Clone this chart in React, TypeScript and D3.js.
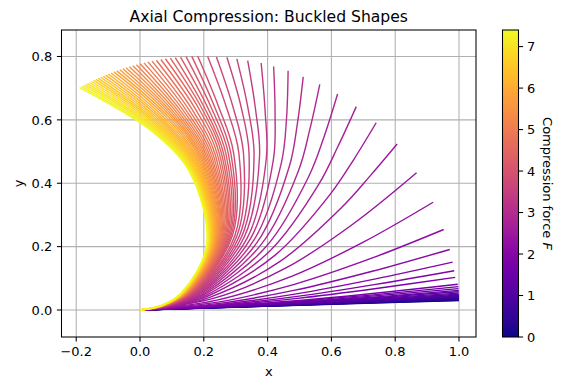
import React, { useEffect, useRef } from 'react';
import * as d3 from 'd3';

// compression force of each curve (colour scale)
const forces = [
  0, 0.1, 0.2, 0.3, 0.4, 0.5, 0.6, 0.7, 0.8, 0.9,
  1.0, 1.1, 1.2, 1.3, 1.4, 1.5, 1.6, 1.7, 1.8, 1.9,
  2.0, 2.1, 2.2, 2.3, 2.4, 2.5, 2.6, 2.7, 2.8, 2.9,
  3.0, 3.1, 3.2, 3.3, 3.4, 3.5, 3.6, 3.7, 3.8, 3.9,
  4.0, 4.1, 4.2, 4.3, 4.4, 4.5, 4.6, 4.7, 4.8, 4.9,
  5.0, 5.1, 5.2, 5.3, 5.4, 5.5, 5.6, 5.7, 5.8, 5.9,
  6.0, 6.1, 6.2, 6.3, 6.4, 6.5, 6.6, 6.7, 6.8, 6.9,
  7.0, 7.1, 7.2, 7.3, 7.4,
];
const forceMax = 7.4;

// shape of each buckled beam (x then y)
const shapeX: number[][] = [
  [0, 0.5, 1], [0, 0.5, 1], [0, 0.5, 1], [0, 0.5, 1], [0, 0.5, 1],
  [0, 0.5, 1], [0, 0.5, 1], [0, 0.5, 1], [0, 0.5, 1], [0, 0.5, 1],
  [0, 0.5, 1], [0, 0.4995, 0.999], [0, 0.4995, 0.999], [0, 0.4995, 0.999], [0, 0.4995, 0.999],
  [0, 0.499, 0.998], [0, 0.499, 0.998], [0, 0.498, 0.996],
  [0, 0.247, 0.494, 0.741, 0.988],
  [0, 0.246, 0.493, 0.739, 0.985],
  [0, 0.245, 0.49, 0.735, 0.98],
  [0, 0.243, 0.486, 0.728, 0.971],
  [0, 0.244, 0.484, 0.72, 0.952],
  [0, 0.241, 0.475, 0.7, 0.919],
  [0, 0.235, 0.459, 0.668, 0.867],
  [0, 0.099, 0.218, 0.439, 0.632, 0.7201, 0.806],
  [0, 0.0996, 0.2148, 0.4237, 0.596, 0.6705, 0.7404],
  [0, 0.0991, 0.2111, 0.4087, 0.5602, 0.6208, 0.678],
  [0, 0.0982, 0.2072, 0.3948, 0.5286, 0.5776, 0.6194],
  [0, 0.097, 0.2032, 0.3812, 0.4968, 0.5331, 0.5636],
  [0, 0.0957, 0.1993, 0.3687, 0.4684, 0.4939, 0.5116],
  [0, 0.0944, 0.1955, 0.3574, 0.4435, 0.4595, 0.4643],
  [0, 0.093, 0.1919, 0.3464, 0.4181, 0.4234, 0.4189],
  [0, 0.0918, 0.1887, 0.3368, 0.3962, 0.3922, 0.3798],
  [0, 0.0903, 0.1851, 0.3269, 0.3747, 0.3621, 0.3376],
  [0, 0.0892, 0.1822, 0.3189, 0.3576, 0.3383, 0.3036],
  [0, 0.088, 0.1794, 0.3116, 0.3419, 0.3166, 0.2724],
  [0, 0.0868, 0.1765, 0.3038, 0.3245, 0.2909, 0.2396],
  [0, 0.0857, 0.1739, 0.2972, 0.31, 0.2695, 0.2122],
  [0, 0.0844, 0.1711, 0.2898, 0.2936, 0.2452, 0.1811],
  [0, 0.0836, 0.1692, 0.2855, 0.2848, 0.2325, 0.1623],
  [0, 0.0829, 0.1675, 0.2815, 0.2769, 0.2211, 0.1444],
  [0, 0.0821, 0.1658, 0.2777, 0.2694, 0.2104, 0.1271],
  [0, 0.0814, 0.1641, 0.2739, 0.2624, 0.2006, 0.1106],
  [0, 0.0808, 0.1626, 0.2706, 0.2562, 0.1918, 0.0951],
  [0, 0.08, 0.161, 0.2671, 0.2498, 0.1827, 0.0797],
  [0, 0.0793, 0.1595, 0.2639, 0.2434, 0.1725, 0.0654],
  [0, 0.0787, 0.158, 0.2607, 0.237, 0.1623, 0.0512],
  [0, 0.078, 0.1565, 0.2577, 0.2312, 0.1533, 0.0378],
  [0, 0.0774, 0.1551, 0.2548, 0.2258, 0.1447, 0.0249],
  [0, 0.0768, 0.1537, 0.252, 0.2207, 0.137, 0.0123],
  [0, 0.0762, 0.1524, 0.2494, 0.2159, 0.1297, 0.0002],
  [0, 0.0756, 0.1512, 0.2468, 0.2116, 0.1232, -0.0112],
  [0, 0.0749, 0.1499, 0.2444, 0.2075, 0.117, -0.0225],
  [0, 0.0743, 0.1487, 0.2421, 0.2036, 0.1111, -0.0332],
  [0, 0.0738, 0.1474, 0.2398, 0.1999, 0.1058, -0.0438],
  [0, 0.0733, 0.1463, 0.2377, 0.1967, 0.1011, -0.0537],
  [0, 0.0727, 0.1451, 0.2356, 0.1934, 0.0964, -0.0634],
  [0, 0.0721, 0.144, 0.2336, 0.1902, 0.0912, -0.0729],
  [0, 0.0716, 0.143, 0.2316, 0.187, 0.0857, -0.0818],
  [0, 0.0711, 0.1419, 0.2297, 0.1839, 0.0802, -0.0908],
  [0, 0.0706, 0.1408, 0.2279, 0.1809, 0.075, -0.0994],
  [0, 0.0701, 0.1398, 0.2261, 0.1783, 0.0706, -0.1075],
  [0, 0.0696, 0.1388, 0.2244, 0.1759, 0.0665, -0.1155],
  [0, 0.0691, 0.1379, 0.2227, 0.1735, 0.0627, -0.1229],
  [0, 0.0687, 0.1369, 0.2211, 0.1712, 0.0589, -0.1306],
  [0, 0.0682, 0.136, 0.2195, 0.169, 0.0551, -0.138],
  [0, 0.0678, 0.135, 0.218, 0.1671, 0.0521, -0.145],
  [0, 0.0674, 0.1342, 0.2167, 0.1653, 0.0492, -0.1518],
  [0, 0.067, 0.1333, 0.2152, 0.1635, 0.0464, -0.1586],
  [0, 0.0666, 0.1324, 0.2138, 0.1619, 0.0439, -0.1653],
  [0, 0.0661, 0.1315, 0.2124, 0.1603, 0.0417, -0.1716],
  [0, 0.0658, 0.1307, 0.2112, 0.159, 0.0396, -0.1778],
  [0, 0.0654, 0.1299, 0.2099, 0.1576, 0.0376, -0.1838],
  [0, 0.065, 0.1292, 0.209, 0.1565, 0.0359, -0.1895],
];
const shapeY: number[][] = [
  [0, 0.015, 0.03], [0, 0.0153, 0.031], [0, 0.0157, 0.0322], [0, 0.0161, 0.0334], [0, 0.0165, 0.0348],
  [0, 0.017, 0.0363], [0, 0.0174, 0.0379], [0, 0.018, 0.0398], [0, 0.0186, 0.0418], [0, 0.0193, 0.0441],
  [0, 0.0201, 0.0467], [0, 0.0211, 0.0499], [0, 0.0221, 0.0534], [0, 0.0233, 0.0574], [0, 0.0247, 0.062],
  [0, 0.0262, 0.0674], [0, 0.028, 0.0737], [0, 0.0302, 0.0814],
  [0, 0.0133, 0.0368, 0.0679, 0.103],
  [0, 0.0149, 0.0429, 0.0809, 0.124],
  [0, 0.0169, 0.0509, 0.0975, 0.151],
  [0, 0.02, 0.0626, 0.1222, 0.191],
  [0, 0.0248, 0.0811, 0.1611, 0.254],
  [0, 0.0313, 0.1062, 0.2141, 0.34],
  [0, 0.0383, 0.1334, 0.2714, 0.433],
  [0, 0.01, 0.0399, 0.1535, 0.3234, 0.4216, 0.5238],
  [0, 0.0113, 0.045, 0.1731, 0.3647, 0.4757, 0.5909],
  [0, 0.0123, 0.0489, 0.1879, 0.3962, 0.5166, 0.6418],
  [0, 0.0131, 0.0519, 0.1996, 0.4207, 0.5485, 0.6815],
  [0, 0.0137, 0.0542, 0.2085, 0.4395, 0.5731, 0.712],
  [0, 0.0142, 0.056, 0.2155, 0.4543, 0.5923, 0.7359],
  [0, 0.0145, 0.0575, 0.2211, 0.4661, 0.6077, 0.7551],
  [0, 0.0148, 0.0585, 0.2251, 0.4743, 0.6184, 0.7683],
  [0, 0.015, 0.0593, 0.2282, 0.4811, 0.6272, 0.7793],
  [0, 0.0151, 0.0599, 0.2305, 0.4858, 0.6334, 0.7869],
  [0, 0.0153, 0.0603, 0.2321, 0.4892, 0.6378, 0.7923],
  [0, 0.0154, 0.0607, 0.2335, 0.4922, 0.6418, 0.7974],
  [0, 0.0154, 0.0608, 0.2339, 0.493, 0.6428, 0.7986],
  [0, 0.0154, 0.0609, 0.2342, 0.4938, 0.6438, 0.7998],
  [0, 0.0154, 0.061, 0.2346, 0.4945, 0.6448, 0.801],
  [0, 0.0154, 0.061, 0.2344, 0.4941, 0.6443, 0.8004],
  [0, 0.0154, 0.0609, 0.2341, 0.4936, 0.6435, 0.7995],
  [0, 0.0154, 0.0608, 0.2338, 0.4928, 0.6426, 0.7983],
  [0, 0.0153, 0.0607, 0.2334, 0.4919, 0.6413, 0.7968],
  [0, 0.0153, 0.0605, 0.2329, 0.4907, 0.6399, 0.7949],
  [0, 0.0153, 0.0604, 0.2322, 0.4894, 0.6382, 0.7928],
  [0, 0.0152, 0.0602, 0.2316, 0.4881, 0.6363, 0.7906],
  [0, 0.0152, 0.06, 0.2309, 0.4866, 0.6344, 0.7882],
  [0, 0.0151, 0.0598, 0.2301, 0.4849, 0.6323, 0.7855],
  [0, 0.0151, 0.0596, 0.2293, 0.4832, 0.6301, 0.7829],
  [0, 0.015, 0.0594, 0.2284, 0.4815, 0.6277, 0.7799],
  [0, 0.015, 0.0592, 0.2276, 0.4797, 0.6255, 0.7771],
  [0, 0.0149, 0.0589, 0.2267, 0.4778, 0.623, 0.774],
  [0, 0.0148, 0.0587, 0.2258, 0.4759, 0.6205, 0.7709],
  [0, 0.0148, 0.0584, 0.2249, 0.474, 0.618, 0.7678],
  [0, 0.0147, 0.0582, 0.2239, 0.4719, 0.6153, 0.7645],
  [0, 0.0146, 0.0579, 0.2229, 0.4699, 0.6127, 0.7612],
  [0, 0.0146, 0.0577, 0.222, 0.468, 0.6102, 0.7581],
  [0, 0.0145, 0.0574, 0.221, 0.4658, 0.6074, 0.7546],
  [0, 0.0145, 0.0572, 0.22, 0.4637, 0.6047, 0.7513],
  [0, 0.0144, 0.0569, 0.2191, 0.4617, 0.6019, 0.7478],
  [0, 0.0143, 0.0566, 0.2181, 0.4596, 0.5993, 0.7446],
  [0, 0.0143, 0.0564, 0.2171, 0.4575, 0.5966, 0.7412],
  [0, 0.0142, 0.0561, 0.2161, 0.4555, 0.5939, 0.7378],
  [0, 0.0141, 0.0559, 0.2151, 0.4534, 0.5911, 0.7344],
  [0, 0.0141, 0.0557, 0.2141, 0.4512, 0.5883, 0.731],
  [0, 0.014, 0.0554, 0.2132, 0.4493, 0.5859, 0.7278],
  [0, 0.0139, 0.0552, 0.2122, 0.4472, 0.5831, 0.7245],
  [0, 0.0139, 0.0549, 0.2112, 0.4451, 0.5805, 0.7211],
  [0, 0.0138, 0.0547, 0.2103, 0.4432, 0.5778, 0.7179],
  [0, 0.0137, 0.0544, 0.2092, 0.441, 0.575, 0.7144],
  [0, 0.0137, 0.0542, 0.2082, 0.4389, 0.5724, 0.7111],
  [0, 0.0136, 0.0539, 0.2073, 0.4369, 0.5697, 0.7078],
  [0, 0.0135, 0.0537, 0.2064, 0.435, 0.5672, 0.7047],
  [0, 0.0135, 0.0534, 0.2055, 0.4331, 0.5647, 0.7015],
];

const xTicks = [-0.2, 0, 0.2, 0.4, 0.6, 0.8, 1.0];
const yTicks = [0, 0.2, 0.4, 0.6, 0.8];
const cbTicks = [0, 1, 2, 3, 4, 5, 6, 7];

export default function App() {
  const svgRef = useRef<SVGSVGElement>(null);

  useEffect(() => {
    const W = 566;
    const H = 390;
    const left = 61.5, right = 476, top = 30, bottom = 337;
    const font = 'DejaVu Sans, sans-serif';

    const svg = d3.select(svgRef.current)
      .attr('width', W)
      .attr('height', H);
    svg.selectAll('*').remove();
    svg.append('rect').attr('width', W).attr('height', H).attr('fill', '#fff');

    const x = d3.scaleLinear().domain([-0.2461, 1.0533]).range([left, right]);
    const y = d3.scaleLinear().domain([-0.0852, 0.8836]).range([bottom, top]);
    const fmt = (v: number) => d3.format('.1f')(v).replace('-', '\u2212');

    // grid
    const grid = svg.append('g');
    xTicks.forEach(t => {
      grid.append('line')
        .attr('x1', x(t)).attr('x2', x(t)).attr('y1', top).attr('y2', bottom)
        .attr('stroke', '#b0b0b0').attr('stroke-width', 1.05);
    });
    yTicks.forEach(t => {
      grid.append('line')
        .attr('x1', left).attr('x2', right).attr('y1', y(t)).attr('y2', y(t))
        .attr('stroke', '#b0b0b0').attr('stroke-width', 1.05);
    });

    // curves, weakest force first so the yellow ones sit on top
    const line = d3.line<[number, number]>()
      .x(d => x(d[0]))
      .y(d => y(d[1]))
      .curve(d3.curveCatmullRom.alpha(0.5));
    const curves = svg.append('g');
    forces.forEach((f, i) => {
      const pts = shapeX[i].map((v, j) => [v, shapeY[i][j]] as [number, number]);
      curves.append('path')
        .attr('d', line(pts))
        .attr('fill', 'none')
        .attr('stroke', d3.interpolatePlasma(f / forceMax))
        .attr('stroke-width', 1.4);
    });

    // frame
    svg.append('rect')
      .attr('x', left).attr('y', top)
      .attr('width', right - left).attr('height', bottom - top)
      .attr('fill', 'none').attr('stroke', '#000').attr('stroke-width', 1.05);

    // ticks + labels
    xTicks.forEach(t => {
      svg.append('line')
        .attr('x1', x(t)).attr('x2', x(t)).attr('y1', bottom).attr('y2', bottom + 4.6)
        .attr('stroke', '#000').attr('stroke-width', 1.05);
      svg.append('text')
        .attr('x', x(t)).attr('y', bottom + 19)
        .attr('text-anchor', 'middle')
        .attr('font-family', font).attr('font-size', 13)
        .text(fmt(t));
    });
    yTicks.forEach(t => {
      svg.append('line')
        .attr('x1', left - 4.6).attr('x2', left).attr('y1', y(t)).attr('y2', y(t))
        .attr('stroke', '#000').attr('stroke-width', 1.05);
      svg.append('text')
        .attr('x', left - 9.2).attr('y', y(t))
        .attr('dy', '0.36em')
        .attr('text-anchor', 'end')
        .attr('font-family', font).attr('font-size', 13)
        .text(fmt(t));
    });

    svg.append('text')
      .attr('x', (left + right) / 2).attr('y', 376)
      .attr('text-anchor', 'middle')
      .attr('font-family', font).attr('font-size', 13)
      .text('x');
    svg.append('text')
      .attr('transform', `translate(18,${(top + bottom) / 2}) rotate(-90)`)
      .attr('text-anchor', 'middle')
      .attr('dy', '0.36em')
      .attr('font-family', font).attr('font-size', 13)
      .text('y');

    svg.append('text')
      .attr('x', (left + right) / 2).attr('y', 22)
      .attr('text-anchor', 'middle')
      .attr('font-family', font).attr('font-size', 15.6)
      .text('Axial Compression: Buckled Shapes');

    // colorbar
    const cbLeft = 502.5, cbRight = 518.5;
    const cb = d3.scaleLinear().domain([0, forceMax]).range([bottom, top]);
    const defs = svg.append('defs');
    const grad = defs.append('linearGradient')
      .attr('id', 'plasmaGrad')
      .attr('x1', 0).attr('y1', 1).attr('x2', 0).attr('y2', 0);
    d3.range(0, 1.0001, 0.02).forEach(t => {
      grad.append('stop')
        .attr('offset', t)
        .attr('stop-color', d3.interpolatePlasma(t));
    });
    svg.append('rect')
      .attr('x', cbLeft).attr('y', top)
      .attr('width', cbRight - cbLeft).attr('height', bottom - top)
      .attr('fill', 'url(#plasmaGrad)')
      .attr('stroke', '#000').attr('stroke-width', 1.05);
    cbTicks.forEach(t => {
      svg.append('line')
        .attr('x1', cbRight).attr('x2', cbRight + 4.6).attr('y1', cb(t)).attr('y2', cb(t))
        .attr('stroke', '#000').attr('stroke-width', 1.05);
      svg.append('text')
        .attr('x', cbRight + 8.5).attr('y', cb(t))
        .attr('dy', '0.36em')
        .attr('font-family', font).attr('font-size', 13)
        .text(String(t));
    });
    const cbLabel = svg.append('text')
      .attr('transform', `translate(548,${(top + bottom) / 2}) rotate(90)`)
      .attr('text-anchor', 'middle')
      .attr('dy', '0.36em')
      .attr('font-family', font).attr('font-size', 13);
    cbLabel.append('tspan').text('Compression force ');
    cbLabel.append('tspan').attr('font-style', 'italic').text('F');
  }, []);

  return (
    <div style={{ position: 'absolute', left: 0, top: 0 }}>
      <svg ref={svgRef} style={{ display: 'block' }}></svg>
    </div>
  );
}
